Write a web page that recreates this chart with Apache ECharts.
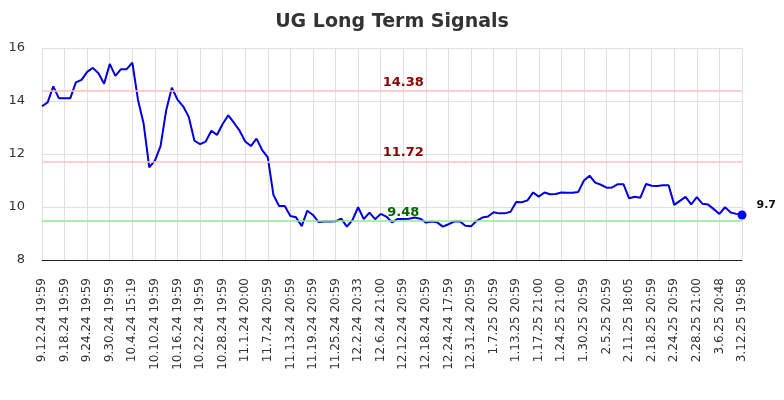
<!DOCTYPE html>
<html>
<head>
<meta charset="utf-8">
<script src="https://cdn.jsdelivr.net/npm/echarts@6/dist/echarts.min.js"></script>
<style>html,body{margin:0;padding:0;background:#fff}#c{width:784px;height:400px}</style>
</head>
<body>
<div id="c"></div>
<script>
const tickLabels = ['9.12.24 19:59','9.18.24 19:59','9.24.24 19:59','9.30.24 19:59','10.4.24 15:19','10.10.24 19:59','10.16.24 19:59','10.22.24 19:59','10.28.24 19:59','11.1.24 20:00','11.7.24 20:59','11.13.24 20:59','11.19.24 20:59','11.25.24 20:59','12.2.24 20:33','12.6.24 21:00','12.12.24 20:59','12.18.24 20:59','12.24.24 17:59','12.31.24 20:59','1.7.25 20:59','1.13.25 20:59','1.17.25 21:00','1.24.25 21:00','1.30.25 20:59','2.5.25 20:59','2.11.25 18:05','2.18.25 20:59','2.24.25 20:59','2.28.25 21:00','3.6.25 20:48','3.12.25 19:58'];
const prices = [13.8,13.95,14.55,14.1,14.1,14.1,14.7,14.8,15.1,15.25,15.05,14.65,15.4,14.95,15.2,15.2,15.45,14.05,13.15,11.5,
11.75,12.3,13.65,14.5,14.05,13.8,13.4,12.5,12.37,12.47,12.88,12.72,13.13,13.46,13.18,12.88,12.47,12.3,12.58,12.15,
11.87,10.45,10.04,10.04,9.66,9.61,9.28,9.86,9.7,9.43,9.45,9.45,9.46,9.56,9.26,9.51,9.99,9.54,9.79,9.54,
9.74,9.64,9.42,9.55,9.55,9.56,9.6,9.56,9.41,9.45,9.42,9.26,9.35,9.45,9.46,9.29,9.27,9.48,9.6,9.64,
9.8,9.76,9.76,9.82,10.19,10.18,10.25,10.55,10.39,10.55,10.48,10.49,10.55,10.54,10.54,10.57,11.0,11.18,10.92,10.84,
10.73,10.74,10.86,10.86,10.33,10.39,10.35,10.87,10.8,10.79,10.82,10.82,10.08,10.23,10.38,10.1,10.37,10.12,10.09,9.92,
9.74,9.99,9.79,9.74,9.7];
const labelStep = 4;
const resistanceLevels = [14.38, 11.72];
const supportLevels = [9.48];
const levelLabelIndex = 64;
const lastLabel = '9.7';

const categories = prices.map((v, i) => (i % labelStep === 0 ? tickLabels[i / labelStep] : ''));
const FONT = 'DejaVu Sans';
const lastIdx = prices.length - 1;

const chart = echarts.init(document.getElementById('c'));
chart.setOption({
  animation: false,
  title: {
    text: 'UG Long Term Signals', left: 'center', top: 8,
    textStyle: { fontFamily: FONT, fontSize: 19, fontWeight: 'bold', color: '#333' }
  },
  grid: { left: 42, right: 42, top: 48, bottom: 140 },
  xAxis: {
    type: 'category', data: categories, boundaryGap: false,
    axisLine: { lineStyle: { color: '#222', width: 1 } },
    axisTick: { show: false },
    axisLabel: { interval: labelStep - 1, rotate: 90, margin: 18, fontFamily: FONT, fontSize: 12, color: '#333' },
    splitLine: { show: true, interval: labelStep - 1, lineStyle: { color: '#e0e0e0' } }
  },
  yAxis: {
    type: 'value', min: 8, max: 16, interval: 2,
    axisLine: { show: false }, axisTick: { show: false },
    axisLabel: { margin: 17, fontFamily: FONT, fontSize: 13, color: '#333' },
    splitLine: { lineStyle: { color: '#e0e0e0' } }
  },
  series: [{
    type: 'line', data: prices, showSymbol: false, symbol: 'none',
    lineStyle: { color: '#0000dd', width: 2 }, itemStyle: { color: '#0000dd' },
    markLine: {
      silent: true, symbol: 'none', label: { show: false },
      data: resistanceLevels.map(v => ({ yAxis: v, lineStyle: { color: '#ffc0c0', width: 1.5, type: 'solid' } }))
        .concat(supportLevels.map(v => ({ yAxis: v, lineStyle: { color: '#90e890', width: 1.5, type: 'solid' } })))
    },
    markPoint: {
      silent: true,
      data: resistanceLevels.map(v => ({
        coord: [levelLabelIndex, v], symbol: 'circle', symbolSize: 0,
        label: { show: true, position: 'top', distance: 2, formatter: String(v.toFixed(2)), fontFamily: FONT, fontSize: 13, fontWeight: 'bold', color: '#8b0000' }
      })).concat(supportLevels.map(v => ({
        coord: [levelLabelIndex, v], symbol: 'circle', symbolSize: 0,
        label: { show: true, position: 'top', distance: 2, formatter: String(v.toFixed(2)), fontFamily: FONT, fontSize: 13, fontWeight: 'bold', color: '#006400' }
      }))).concat([{
        coord: [lastIdx, prices[lastIdx]], symbol: 'circle', symbolSize: 9,
        itemStyle: { color: '#0000ff' },
        label: { show: true, position: 'right', distance: 10, offset: [0, -10], formatter: lastLabel, fontFamily: FONT, fontSize: 11, fontWeight: 'bold', color: '#111' }
      }])
    }
  }]
});
</script>
</body>
</html>
